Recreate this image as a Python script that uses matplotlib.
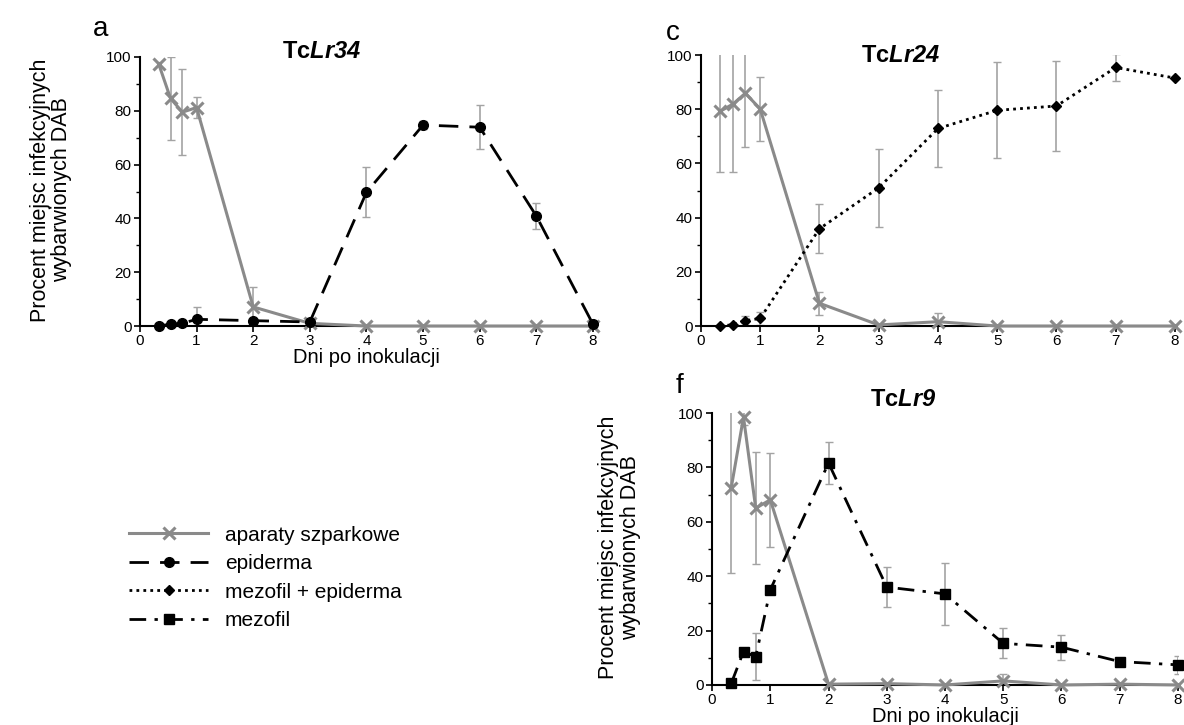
import numpy as np
import matplotlib
matplotlib.use("Agg")
import matplotlib.pyplot as plt

plt.rcParams['font.family'] = ['Liberation Sans', 'DejaVu Sans']
plt.rcParams['mathtext.fontset'] = 'custom'
plt.rcParams['mathtext.bfit'] = 'Liberation Sans:italic:bold'
plt.rcParams['mathtext.it'] = 'Liberation Sans:italic'
plt.rcParams['mathtext.bf'] = 'Liberation Sans:bold'

nan = np.nan
dni = [0.33, 0.54, 0.75, 1, 2, 3, 4, 5, 6, 7, 8]

# TcLr34
a_aparaty = [97.5, 84.6, 79.5, 81.2, 7.1, 1.0, 0, 0, 0, 0, 0]
a_aparaty_err = [nan, 15.5, 16, 3.8, 7.3, 1.5, nan, nan, nan, nan, nan]
a_epiderma = [0, 0.7, 1.0, 2.5, 2.0, 1.5, 49.7, 74.7, 73.9, 40.9, 0.7]
a_epiderma_err = [nan, nan, nan, 4.5, nan, nan, 9.3, 1.5, 8.2, 4.7, nan]

# TcLr24
c_aparaty = [79.3, 81.9, 85.9, 80.1, 8.4, 0.4, 1.6, 0, 0, 0, 0]
c_aparaty_err = [22.5, 25, 20, 11.7, 4.3, nan, 3.1, nan, nan, nan, nan]
c_mez_epi = [0, 0.5, 2.0, 2.8, 35.9, 51.0, 72.9, 79.6, 81.2, 95.4, 91.5]
c_mez_epi_err = [nan, nan, 1.7, 2.5, 9.0, 14.4, 14.2, 17.7, 16.5, 5.0, nan]

# TcLr9
f_aparaty = [72.6, 98.5, 65.0, 68.1, 0.3, 0.5, 0, 1.5, 0, 0.3, 0]
f_aparaty_err = [31.3, 3, 20.5, 17.3, nan, nan, nan, 2.5, nan, nan, nan]
f_mezofil = [0.6, 12.3, 10.4, 35.0, 81.6, 36.0, 33.5, 15.3, 13.9, 8.6, 7.4]
f_mezofil_err = [nan, nan, 8.7, nan, 7.8, 7.2, 11.5, 5.5, 4.6, 1.2, 3.4]

szary = '#8a8a8a'
err_kolor = '#a3a3a3'

fig = plt.figure(figsize=(11.84, 7.25), dpi=100)
ax_a = fig.add_axes([0.1182, 0.5503, 0.3826, 0.3711])
ax_c = fig.add_axes([0.5920, 0.5503, 0.4004, 0.3738])
ax_f = fig.add_axes([0.6014, 0.0552, 0.3935, 0.3751])


def styl(ax):
    ax.set_xlim(0, 8)
    ax.set_ylim(0, 100)
    ax.set_xticks(range(9))
    ax.set_yticks(range(0, 101, 20))
    ax.set_yticks(range(10, 100, 20), minor=True)
    ax.spines['top'].set_visible(False)
    ax.spines['right'].set_visible(False)
    ax.spines['left'].set_linewidth(1.5)
    ax.spines['bottom'].set_linewidth(1.5)
    ax.tick_params(which='major', direction='out', length=4, width=1.2, labelsize=11, pad=2)
    ax.tick_params(which='minor', direction='out', length=3, width=1.0)
    ax.tick_params(axis='x', length=4)


def seria(ax, y, err, **kw):
    ax.errorbar(dni, y, yerr=err, fmt='none', ecolor=err_kolor, elinewidth=1.2,
                capsize=3, capthick=1.0, zorder=2)
    ln, = ax.plot(dni, y, clip_on=False, zorder=3, **kw)
    return ln


aparaty_kw = dict(color=szary, lw=2.2, marker='x', ms=9, mew=2.2)
epi_kw = dict(color='black', lw=2, dashes=(7, 4), marker='o', ms=7)
mez_epi_kw = dict(color='black', lw=2, linestyle=(0, (1, 1.5)), marker='D', ms=5.5)
mez_kw = dict(color='black', lw=2, linestyle=(0, (6, 3, 1.2, 3)), marker='s', ms=6.5)

for ax in (ax_a, ax_c, ax_f):
    styl(ax)

h_apar = seria(ax_a, a_aparaty, a_aparaty_err, **aparaty_kw)
h_epi = seria(ax_a, a_epiderma, a_epiderma_err, **epi_kw)
seria(ax_c, c_aparaty, c_aparaty_err, **aparaty_kw)
h_mez_epi = seria(ax_c, c_mez_epi, c_mez_epi_err, **mez_epi_kw)
seria(ax_f, f_aparaty, f_aparaty_err, **aparaty_kw)
h_mez = seria(ax_f, f_mezofil, f_mezofil_err, **mez_kw)

ax_a.set_xlabel('Dni po inokulacji', fontsize=14.5, labelpad=0)
ax_f.set_xlabel('Dni po inokulacji', fontsize=14.5, labelpad=0)

ylab = 'Procent miejsc infekcyjnych\nwybarwionych DAB'
fig.text(0.043, 0.738, ylab, rotation=90, ha='center', va='center', fontsize=15.5, linespacing=1.05)
fig.text(0.523, 0.245, ylab, rotation=90, ha='center', va='center', fontsize=15.5, linespacing=1.05)

ax_a.text(0.40, 1.02, r'Tc$\mathbfit{Lr34}$', transform=ax_a.transAxes, ha='center', va='center',
          fontsize=17, fontweight='bold')
ax_c.text(0.42, 1.0, r'Tc$\mathbfit{Lr24}$', transform=ax_c.transAxes, ha='center', va='center',
          fontsize=17, fontweight='bold')
ax_f.text(0.41, 1.05, r'Tc$\mathbfit{Lr9}$', transform=ax_f.transAxes, ha='center', va='center',
          fontsize=17, fontweight='bold')

fig.text(0.085, 0.96, 'a', fontsize=20, ha='center', va='center')
fig.text(0.568, 0.955, 'c', fontsize=20, ha='center', va='center')
fig.text(0.574, 0.468, 'f', fontsize=20, ha='center', va='center')

fig.legend([h_apar, h_epi, h_mez_epi, h_mez],
           ['aparaty szparkowe', 'epiderma', 'mezofil + epiderma', 'mezofil'],
           loc='center left', bbox_to_anchor=(0.109, 0.203), frameon=False,
           fontsize=15, handlelength=3.8, handletextpad=0.8, labelspacing=0.45,
           borderpad=0, borderaxespad=0)

plt.savefig('out.png', dpi=100)
